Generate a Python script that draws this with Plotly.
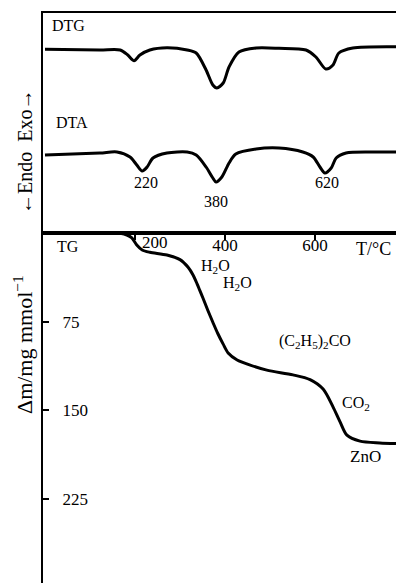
import plotly.graph_objects as go

# ---------------- data ----------------
# DTG (arbitrary units, relative to baseline)
dtg_T = [0, 122, 167, 184, 198, 211, 233, 271, 316, 336, 358, 373, 382, 396, 409,
         431, 469, 520, 580, 602, 624, 640, 653, 684, 780]
dtg_val = [0.7, 0, 0, -5, -10.7, -5, 0, 2.3, 0, -3, -20, -35, -38, -33, -17,
           -2, 2, 1.7, 0, -7, -19, -15, -3, 2, 3.3]

# DTA (arbitrary units, relative to baseline)
dta_T = [0, 122, 160, 189, 204, 216, 227, 240, 271, 316, 336, 358, 373, 380, 393,
         409, 424, 469, 520, 573, 596, 611, 622, 636, 647, 669, 729, 780]
dta_val = [-2, 0, 1, -4, -12, -18, -14, -5, 0, 1, -2, -14, -25, -29, -24,
           -10, -1, 4, 5, 1, -4, -14, -20, -15, -5, 0, 1, 1]

# TG mass loss (mg/mmol)
tg_T = [0, 100, 167, 182, 193, 204, 216, 233, 271, 300, 318, 329, 338, 344, 351,
        362, 373, 384, 396, 407, 427, 456, 493, 551, 589, 618, 640, 656, 671, 700,
        744, 780]
tg_dm = [-0.6, -2, 0.3, 1.7, 4.2, 10.2, 14.4, 16.3, 18.6, 22.5, 29, 35.5, 43, 48.5, 55,
         65.5, 75.5, 85, 94, 101.5, 107.4, 111.7, 116, 120, 124, 132, 147, 160, 171, 176,
         177.5, 178]

x_tickvals = [200, 400, 600]
x_ticktext = ["", "400", "600"]
y_tickvals = [75, 150, 225]
y_ticktext = ["75", "150", "225"]

peak_T = [220, 380, 620]

# ---------------- layout constants ----------------
W, H = 396, 583
DTG_OFFSET = 183
DTA_OFFSET = 80
FONT = "Liberation Serif"
XR = [-4.4, 780]
split = 1 - 233 / H
top_end = 1 - 13 / H
xdom = [43 / W, 1]

fig = go.Figure()

line_style = dict(color="black", width=3, shape="spline", smoothing=0.8)
fig.add_trace(go.Scatter(x=dtg_T, y=[v + DTG_OFFSET for v in dtg_val], mode="lines",
                         line=line_style, xaxis="x2", yaxis="y2", hoverinfo="skip"))
fig.add_trace(go.Scatter(x=dta_T, y=[v + DTA_OFFSET for v in dta_val], mode="lines",
                         line=line_style, xaxis="x2", yaxis="y2", hoverinfo="skip"))
fig.add_trace(go.Scatter(x=tg_T, y=tg_dm, mode="lines",
                         line=line_style, xaxis="x", yaxis="y", hoverinfo="skip"))

fig.update_layout(
    width=W, height=H,
    margin=dict(l=0, r=0, t=0, b=0),
    paper_bgcolor="white", plot_bgcolor="white",
    showlegend=False,
    font=dict(family=FONT, size=16, color="black"),
    xaxis=dict(domain=xdom, range=XR, anchor="y", side="top",
               showline=True, linecolor="black", linewidth=2,
               ticks="inside", ticklen=7, tickwidth=2, tickcolor="black",
               tickvals=x_tickvals, ticktext=x_ticktext,
               ticklabelposition="inside", tickfont=dict(family=FONT, size=17, color="black"),
               showgrid=False, zeroline=False),
    yaxis=dict(domain=[0, split], range=[296, 0], anchor="x",
               showline=True, linecolor="black", linewidth=2,
               ticks="inside", ticklen=6, tickwidth=2, tickcolor="black",
               tickvals=y_tickvals, ticktext=y_ticktext,
               ticklabelposition="inside", ticklabelstandoff=14,
               tickfont=dict(family=FONT, size=17, color="black"),
               showgrid=False, zeroline=False),
    xaxis2=dict(domain=xdom, range=XR, anchor="y2", matches="x",
                showline=True, mirror=True, linecolor="black", linewidth=2,
                showticklabels=False, ticks="", showgrid=False, zeroline=False),
    yaxis2=dict(domain=[split, top_end], range=[0, 220], anchor="x2",
                showline=True, linecolor="black", linewidth=2,
                showticklabels=False, ticks="", showgrid=False, zeroline=False),
)

ann = []
def add(text, x, y, xref, yref, size=16, xanchor="center", yanchor="middle", angle=0):
    ann.append(dict(text=text, x=x, y=y, xref=xref, yref=yref, showarrow=False,
                    font=dict(family=FONT, size=size, color="black"),
                    xanchor=xanchor, yanchor=yanchor, textangle=angle))

# top panel labels
add("DTG", 11, 208, "x2", "y2", xanchor="left")
add("DTA", 20, 111, "x2", "y2", xanchor="left")
add(str(peak_T[0]), 224, 51, "x2", "y2")
add(str(peak_T[1]), 380, 32, "x2", "y2")
add(str(peak_T[2]), 627, 51, "x2", "y2")

# TG panel labels
add("TG", 22, 11, "x", "y", xanchor="left")
add("200", 244, 8, "x", "y", size=17)
add("T/°C", 729, 13.5, "x", "y", size=18)
add("H<sub>2</sub>O", 380, 28, "x", "y")
add("H<sub>2</sub>O", 427, 43, "x", "y")
add("(C<sub>2</sub>H<sub>5</sub>)<sub>2</sub>CO", 600, 92, "x", "y")
add("CO<sub>2</sub>", 691, 144, "x", "y")
add("ZnO", 713, 189, "x", "y", size=17)

# axis titles
add("←Endo  Exo→", 25 / W, 1 - 152 / H, "paper", "paper", size=20, angle=-90)
add("Δm/mg mmol<sup>−1</sup>", 23 / W, 1 - 345 / H, "paper", "paper", size=22, angle=-90)

fig.update_layout(annotations=ann)
fig.write_html("out.html", config={"displayModeBar": False},
               post_script="document.body.style.margin='0';document.body.style.overflow='hidden';")
